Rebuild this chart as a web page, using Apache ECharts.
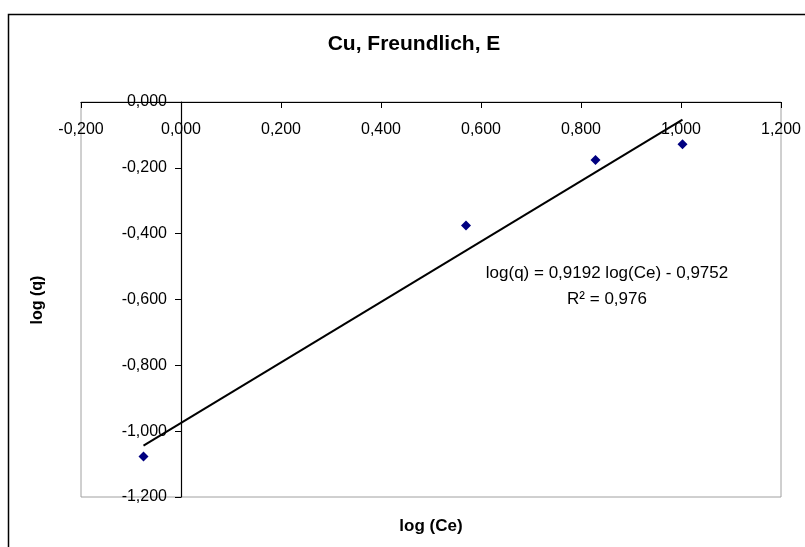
<!DOCTYPE html>
<html>
<head>
<meta charset="utf-8">
<script src="https://cdn.jsdelivr.net/npm/echarts@6/dist/echarts.min.js"></script>
<style>
  html, body { margin: 0; padding: 0; background: #fff; }
  #chart { width: 805px; height: 547px; }
</style>
</head>
<body>
<div id="chart"></div>
<script>
// measured points
const logCe = [-0.075, 0.570, 0.829, 1.003];
const logQ = [-1.077, -0.375, -0.176, -0.128];

// linear trendline from the chart
const slope = 0.9192;
const intercept = -0.9752;
const rSquared = '0,976';

const xTicks = { min: -0.2, max: 1.2, step: 0.2 };
const yTicks = { min: -1.2, max: 0, step: 0.2 };

const fmt = v => v.toFixed(3).replace('.', ',');
const fmt4 = v => v.toFixed(4).replace('.', ',');
const font = 'Liberation Sans, Arial, sans-serif';

const points = logCe.map((x, i) => [x, logQ[i]]);
const xMin = Math.min(...logCe), xMax = Math.max(...logCe);
const trend = [[xMin, slope * xMin + intercept], [xMax, slope * xMax + intercept]];

// y axis sits on x = 0, grid is 700px wide
const gridLeft = 81, gridW = 700;
const yAxisShift = (0 - xTicks.min) / (xTicks.max - xTicks.min) * gridW;

const chart = echarts.init(document.getElementById('chart'));
chart.setOption({
    animation: false,
    backgroundColor: '#fff',
    grid: {
        left: gridLeft, right: 805 - gridLeft - gridW, top: 102, bottom: 50,
        show: true, borderColor: '#a0a0a0', borderWidth: 1, backgroundColor: '#fff'
    },
    xAxis: {
        type: 'value',
        position: 'top',
        min: xTicks.min, max: xTicks.max, interval: xTicks.step,
        axisLine: { onZero: false, lineStyle: { color: '#000', width: 1.2 } },
        axisTick: { show: true, inside: true, length: 6, lineStyle: { color: '#000' } },
        axisLabel: { inside: true, formatter: fmt, color: '#000', fontFamily: font, fontSize: 16, margin: 20, showMinLabel: true, showMaxLabel: true },
        splitLine: { show: false }
    },
    yAxis: {
        type: 'value',
        min: yTicks.min, max: yTicks.max, interval: yTicks.step,
        offset: -yAxisShift,
        axisLine: { onZero: false, lineStyle: { color: '#000', width: 1.2 } },
        axisTick: { show: true, length: 6, lineStyle: { color: '#000' } },
        axisLabel: { formatter: fmt, color: '#000', fontFamily: font, fontSize: 16, margin: 14, showMinLabel: true, showMaxLabel: true },
        splitLine: { show: false }
    },
    series: [
        {
            type: 'scatter',
            data: points,
            symbol: 'diamond',
            symbolSize: 10,
            itemStyle: { color: '#000080', opacity: 1 },
            z: 3
        },
        {
            type: 'line',
            data: trend,
            symbol: 'none',
            lineStyle: { color: '#000', width: 2 },
            z: 4
        }
    ],
    graphic: [
        {
            type: 'rect', silent: true, z: -1,
            shape: { x: 8.5, y: 14.5, width: 900, height: 700 },
            style: { fill: 'none', stroke: '#000', lineWidth: 1.5 }
        },
        {
            type: 'text', x: 414, y: 44, silent: true,
            style: { text: 'Cu, Freundlich, E', fontFamily: font, fontSize: 21, fontWeight: 'bold', fill: '#000', align: 'center', verticalAlign: 'middle' }
        },
        {
            type: 'text', x: 431, y: 526, silent: true,
            style: { text: 'log (Ce)', fontFamily: font, fontSize: 17, fontWeight: 'bold', fill: '#000', align: 'center', verticalAlign: 'middle' }
        },
        {
            type: 'text', x: 38, y: 300, rotation: Math.PI / 2, silent: true,
            style: { text: 'log (q)', fontFamily: font, fontSize: 16, fontWeight: 'bold', fill: '#000', align: 'center', verticalAlign: 'middle' }
        },
        {
            type: 'text', x: 607, y: 273, silent: true,
            style: { text: 'log(q) = ' + fmt4(slope) + ' log(Ce) - ' + fmt4(-intercept), fontFamily: font, fontSize: 17, fill: '#000', align: 'center', verticalAlign: 'middle' }
        },
        {
            type: 'text', x: 607, y: 299, silent: true,
            style: { text: 'R² = ' + rSquared, fontFamily: font, fontSize: 17, fill: '#000', align: 'center', verticalAlign: 'middle' }
        }
    ]
});
</script>
</body>
</html>
